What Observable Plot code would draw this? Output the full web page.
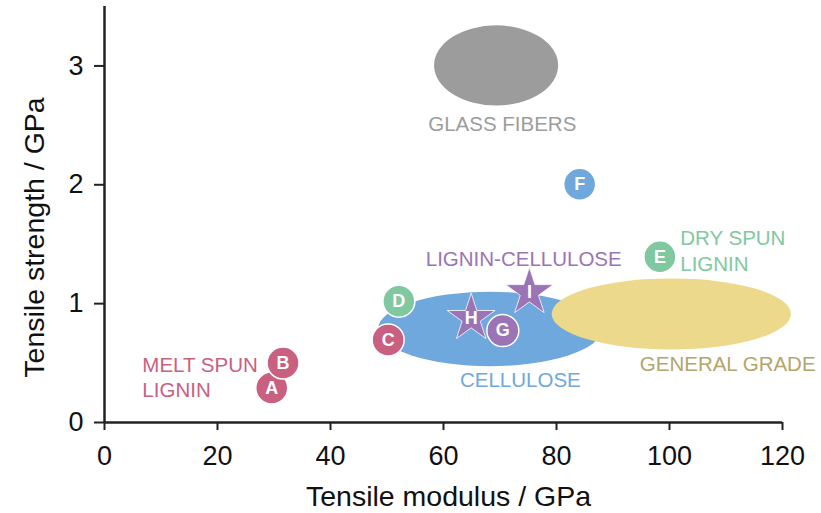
<!DOCTYPE html>
<html><head><meta charset="utf-8">
<script src="https://cdn.jsdelivr.net/npm/d3@7"></script>
<script src="https://cdn.jsdelivr.net/npm/@observablehq/plot@0.6"></script>
<style>body{margin:0;background:#fff}</style>
</head><body><div id="chart"></div>
<script>
// Data points (letters)
const pointIds = ["A", "B", "C", "D", "E", "F", "G", "H", "I"];
const pointModulus = [29.6, 31.6, 50.2, 52.1, 98.3, 84.1, 70.5, 64.9, 75.2];
const pointStrength = [0.29, 0.50, 0.695, 1.02, 1.394, 2.005, 0.773, 0.877, 1.095];
const pointGroup = ["melt", "melt", "melt", "dry", "dry", "cellulose", "lc", "lc", "lc"];
const pointShape = ["circle", "circle", "circle", "circle", "circle", "circle", "circle", "star", "star"];

// Material regions (ellipses)
const regionNames = ["GLASS FIBERS", "CELLULOSE", "GENERAL GRADE"];
const regionModulus = [69.4, 68.3, 100.4];
const regionStrength = [3.0, 0.783, 0.909];
const regionModulusRadius = [10.98, 19.8, 21.17];
const regionStrengthRadius = [0.337, 0.313, 0.299];
const regionColors = ["#9c9c9c", "#6fa8dc", "#ecd98b"];

// Single-line labels
const labelText = ["GLASS FIBERS", "CELLULOSE", "GENERAL GRADE", "LIGNIN-CELLULOSE"];
const labelModulus = [70.4, 73.6, 110.3, 74.2];
const labelStrength = [2.51, 0.358, 0.485, 1.373];
const labelColors = ["#9c9c9c", "#6fa8dc", "#b3a56b", "#9b74b6"];

// Two-line labels
const blockText = ["MELT SPUN\nLIGNIN", "DRY SPUN\nLIGNIN"];
const blockModulus = [6.7, 101.9];
const blockStrength = [0.581, 1.643];
const blockColors = ["#c9607f", "#80c8a0"];

const xTicks = [0, 20, 40, 60, 80, 100, 120];
const yTicks = [0, 1, 2, 3];
const xTitle = "Tensile modulus / GPa";
const yTitle = "Tensile strength / GPa";

const groupColor = {melt: "#c9607f", dry: "#80c8a0", cellulose: "#6fa8dc", lc: "#9b74b6"};

const points = pointIds.map((id, i) => ({id, x: pointModulus[i], y: pointStrength[i], group: pointGroup[i], shape: pointShape[i]}));
const regions = regionNames.map((name, i) => ({name, x: regionModulus[i], y: regionStrength[i], rx: regionModulusRadius[i], ry: regionStrengthRadius[i], color: regionColors[i]}));
const labels = labelText.map((t, i) => ({t, x: labelModulus[i], y: labelStrength[i], color: labelColors[i]}));
const blocks = blockText.map((t, i) => ({t, x: blockModulus[i], y: blockStrength[i], color: blockColors[i]}));

const ellipseMark = (index, scales) => {
  const {x, y} = scales;
  const g = d3.create("svg:g");
  for (const e of regions) {
    g.append("ellipse")
      .attr("cx", x(e.x)).attr("cy", y(e.y))
      .attr("rx", Math.abs(x(e.x + e.rx) - x(e.x)))
      .attr("ry", Math.abs(y(e.y + e.ry) - y(e.y)))
      .attr("fill", e.color);
  }
  return g.node();
};

const circles = points.filter(d => d.shape === "circle");
const stars = points.filter(d => d.shape === "star");

const chart = Plot.plot({
  width: 821, height: 513,
  marginLeft: 104, marginRight: 39, marginTop: 6, marginBottom: 91,
  style: {fontFamily: "'Liberation Sans', Arial, sans-serif", fontSize: "27px", color: "#111", background: "#fff"},
  x: {domain: [0, 120]},
  y: {domain: [0, 3.5]},
  marks: [
    ellipseMark,
    Plot.ruleY([0], {stroke: "#222", strokeWidth: 2.5}),
    Plot.ruleX([0], {stroke: "#222", strokeWidth: 2.5}),
    Plot.axisX({ticks: xTicks, tickFormat: d => String(d), tickSize: 8, tickPadding: 15, label: null, strokeWidth: 2, stroke: "#222", fontSize: 27}),
    Plot.axisY({ticks: yTicks, tickFormat: d => String(d), tickSize: 10, tickPadding: 11, label: null, strokeWidth: 2, stroke: "#222", fontSize: 27}),
    Plot.text(labels, {x: "x", y: "y", text: "t", fill: "color", fontSize: 20.5, textAnchor: "middle", lineAnchor: "middle"}),
    Plot.text(blocks, {x: "x", y: "y", text: "t", fill: "color", fontSize: 20.5, textAnchor: "start", lineAnchor: "top", lineHeight: 1.25}),
    Plot.dot(stars, {x: "x", y: "y", r: 15, symbol: "star", fill: d => groupColor[d.group], stroke: "white", strokeWidth: 0.8}),
    Plot.dot(circles, {x: "x", y: "y", r: 16, fill: d => groupColor[d.group], stroke: "white", strokeWidth: 1.5}),
    Plot.text(points, {x: "x", y: "y", text: "id", fill: "white", fontWeight: "bold", fontSize: 18}),
    Plot.text([xTitle], {frameAnchor: "bottom", text: d => d, fontSize: 28.5, textAnchor: "middle", lineAnchor: "bottom", dy: 83, dx: 5, fill: "#111"}),
    Plot.text([yTitle], {frameAnchor: "left", text: d => d, fontSize: 28.5, rotate: -90, textAnchor: "middle", lineAnchor: "bottom", dx: -61, dy: 23, fill: "#111"})
  ]
});
document.getElementById("chart").appendChild(chart);
</script>
</body></html>
